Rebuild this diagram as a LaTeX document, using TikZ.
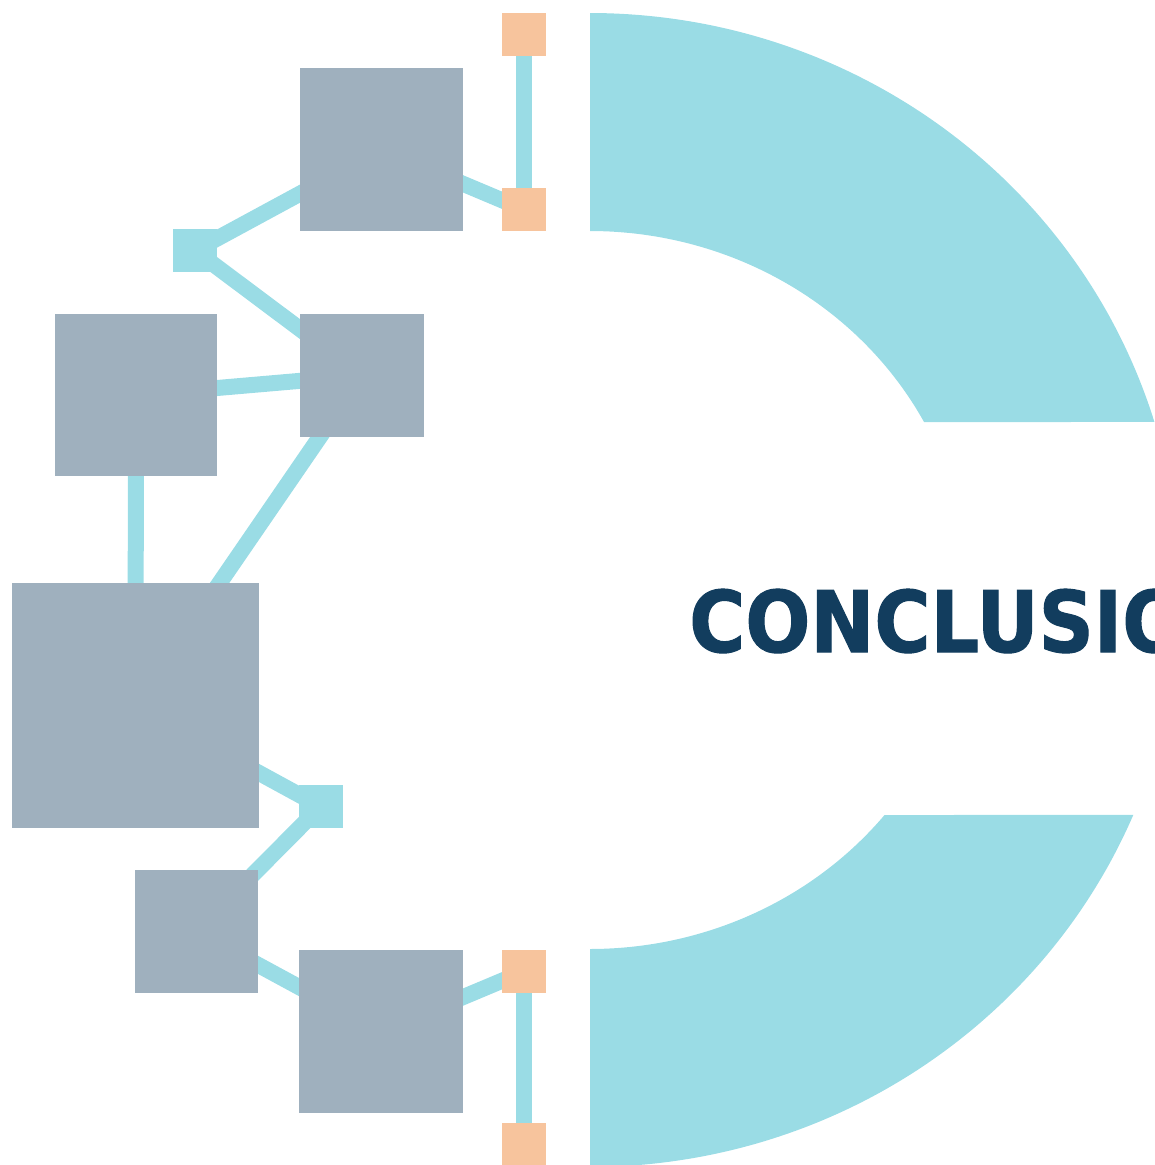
\documentclass[tikz,border=0pt]{standalone}
\usepackage{fontspec}
\newfontfamily\titlefont[FakeStretch=0.9,FakeBold=1.2]{DejaVu Sans Bold}
\usetikzlibrary{backgrounds}
\definecolor{boxgray}{HTML}{9FB0BE}
\definecolor{linkcyan}{HTML}{9ADCE5}
\definecolor{portorange}{HTML}{F7C49D}
\definecolor{titleblue}{HTML}{123D5E}
\tikzset{
  block/.style={rectangle, fill=boxgray, inner sep=0pt, outer sep=0pt},
  hub/.style={rectangle, fill=linkcyan, inner sep=0pt, outer sep=0pt, minimum width=44pt, minimum height=43pt},
  port/.style={rectangle, fill=portorange, inner sep=0pt, outer sep=0pt, minimum width=44pt, minimum height=43pt},
  link/.style={draw=linkcyan, line width=16pt},
  ring/.style={fill=linkcyan}
}
\begin{document}
\begin{tikzpicture}[x=1pt,y=-1pt]
\useasboundingbox (0,0) rectangle (1155,1165);
% ring segments
\fill[ring] (590,13)
  -- plot[domain=-90:-16.93, samples=80, smooth] ({590+590*cos(\x)},{590+577*sin(\x)})
  -- ({590+378*cos(-27.9)},{590+359*sin(-27.9)})
  -- plot[domain=-27.9:-90, samples=80, smooth] ({590+378*cos(\x)},{590+359*sin(\x)})
  -- cycle;
\fill[ring] (590,949)
  -- plot[domain=90:38.81, samples=80, smooth] ({590+378*cos(\x)},{590+359*sin(\x)})
  -- ({590+590*cos(22.95)},{590+577*sin(22.95)})
  -- plot[domain=22.95:90, samples=80, smooth] ({590+590*cos(\x)},{590+577*sin(\x)})
  -- cycle;
% blocks
\node[block, minimum width=163pt, minimum height=163pt] (s1) at (381.5,149.5) {};
\node[block, minimum width=124pt, minimum height=123pt] (s2) at (362,375.5) {};
\node[block, minimum width=162pt, minimum height=162pt] (s3) at (136,395) {};
\node[block, minimum width=247pt, minimum height=245pt] (s4) at (135.5,705.5) {};
\node[block, minimum width=123pt, minimum height=123pt] (s5) at (196.5,931.5) {};
\node[block, minimum width=164pt, minimum height=163pt] (s6) at (381,1031.5) {};
% hubs
\node[hub] (c1) at (195,250.5) {};
\node[hub] (c2) at (320.5,806.5) {};
% ports
\node[port] (o1) at (524,34.5) {};
\node[port] (o2) at (524,209.5) {};
\node[port] (o3) at (524,971.5) {};
\node[port] (o4) at (524,1144) {};
% connectors
\begin{pgfonlayer}{background}
\draw[link] (o1.center) -- (o2.center);
\draw[link] (s1.center) -- (o2.center);
\draw[link] (s1.center) -- (c1.center);
\draw[link] (c1.center) -- (s2.center);
\draw[link] (s3.center) -- (s2.center);
\draw[link] (s3.center) -- (s4.center);
\draw[link] (s2.center) -- (s4.center);
\draw[link] (s4.center) -- (c2.center);
\draw[link] (c2.center) -- (s5.center);
\draw[link] (s5.center) -- (s6.center);
\draw[link] (s6.center) -- (o3.center);
\draw[link] (o3.center) -- (o4.center);
\end{pgfonlayer}
% title
\node[anchor=base west, inner sep=0pt, text=titleblue, font=\titlefont\fontsize{85}{100}\selectfont] (title) at (689,652) {CONCLUSION};
\end{tikzpicture}
\end{document}
